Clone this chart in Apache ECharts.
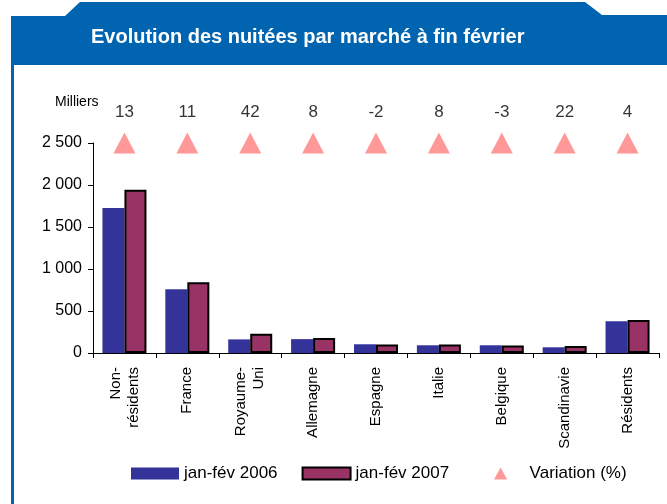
<!DOCTYPE html>
<html>
<head>
<meta charset="utf-8">
<script src="https://cdn.jsdelivr.net/npm/echarts@6/dist/echarts.min.js"></script>
<style>
  html, body { margin: 0; padding: 0; background: #fff; }
  #chart { width: 667px; height: 504px; }
</style>
</head>
<body>
<div id="chart"></div>
<script>
// marchés
const categories = ['Non-\nrésidents', 'France', 'Royaume-\nUni', 'Allemagne', 'Espagne', 'Italie', 'Belgique', 'Scandinavie', 'Résidents']
// nuitées en milliers
const nuitees2006 = [1727, 760, 162, 165, 104, 92, 92, 68, 378]
const nuitees2007 = [1942, 842, 230, 180, 102, 100, 89, 83, 394]
// variation en %
const variation = [13, 11, 42, 8, -2, 8, -3, 22, 4]
const yTicks = [0, 500, 1000, 1500, 2000, 2500]

const font = '"Liberation Sans", Arial, sans-serif'
const blue = '#0064B0'
// les triangles sont posés au sommet de l'axe
const markerLevel = yTicks[yTicks.length - 1]

let legendBase = {
  top: 465,
  padding: 0,
  itemWidth: 48,
  itemHeight: 12,
  itemGap: 24,
  icon: 'rect',
  textStyle: { color: '#000', fontSize: 17, fontFamily: font }
}

let myChart = echarts.init(document.getElementById('chart'))
let option = {
  backgroundColor: '#fff',
  textStyle: { fontFamily: font },
  animation: false,
  title: {
    text: 'Evolution des nuitées par marché à fin février',
    left: 86,
    top: 22,
    textStyle: { color: '#fff', fontSize: 20, fontWeight: 'bold', fontFamily: font }
  },
  graphic: [
    {
      type: 'polygon',
      z: -1,
      shape: { points: [[11, 65], [11, 16], [65, 16], [80, 2], [585, 2], [602, 15], [667, 15], [667, 65]] },
      style: { fill: blue }
    },
    {
      type: 'rect',
      z: -1,
      shape: { x: 11, y: 65, width: 3, height: 440 },
      style: { fill: blue }
    },
    {
      type: 'text',
      left: 55,
      top: 95,
      style: { text: 'Milliers', fill: '#000', font: '14px ' + font }
    }
  ],
  legend: [
    Object.assign({}, legendBase, {
      left: 131,
      data: [{ name: 'jan-fév 2006' }, { name: 'jan-fév 2007' }]
    }),
    Object.assign({}, legendBase, {
      left: 494,
      data: [{ name: 'Variation (%)', icon: 'path://M0,10 L5.5,0 L11,10 Z' }]
    })
  ],
  grid: { left: 93, right: 8, top: 143, bottom: 151 },
  xAxis: {
    type: 'category',
    data: categories,
    axisLine: { lineStyle: { color: '#000', width: 1 } },
    axisTick: { show: true, length: 5, lineStyle: { color: '#000' } },
    axisLabel: {
      rotate: 90,
      interval: 0,
      margin: 14,
      color: '#000',
      fontSize: 15,
      lineHeight: 18,
      fontFamily: font
    }
  },
  yAxis: {
    type: 'value',
    min: 0,
    max: 2500,
    interval: 500,
    axisLine: { show: true, lineStyle: { color: '#000' } },
    axisTick: { show: true, length: 5, lineStyle: { color: '#000' } },
    splitLine: { show: false },
    axisLabel: {
      color: '#000',
      fontSize: 16,
      margin: 11,
      fontFamily: font,
      formatter: function (v) {
        return String(v).replace(/\B(?=(\d{3})+(?!\d))/g, ' ')
      }
    }
  },
  series: [
    {
      name: 'jan-fév 2006',
      type: 'bar',
      barGap: 0,
      barCategoryGap: '30%',
      itemStyle: { color: '#333399' },
      data: nuitees2006
    },
    {
      name: 'jan-fév 2007',
      type: 'bar',
      itemStyle: { color: '#993366', borderColor: '#000', borderWidth: 2 },
      data: nuitees2007
    },
    {
      name: 'Variation (%)',
      type: 'scatter',
      clip: false,
      symbol: 'triangle',
      symbolSize: [22, 21],
      itemStyle: { color: '#FF8080' },
      label: {
        show: true,
        position: 'top',
        distance: 12,
        color: '#000',
        fontSize: 17,
        fontFamily: font,
        formatter: function (p) { return String(variation[p.dataIndex]) }
      },
      data: categories.map(() => markerLevel)
    }
  ]
}
myChart.setOption(option)
</script>
</body>
</html>
